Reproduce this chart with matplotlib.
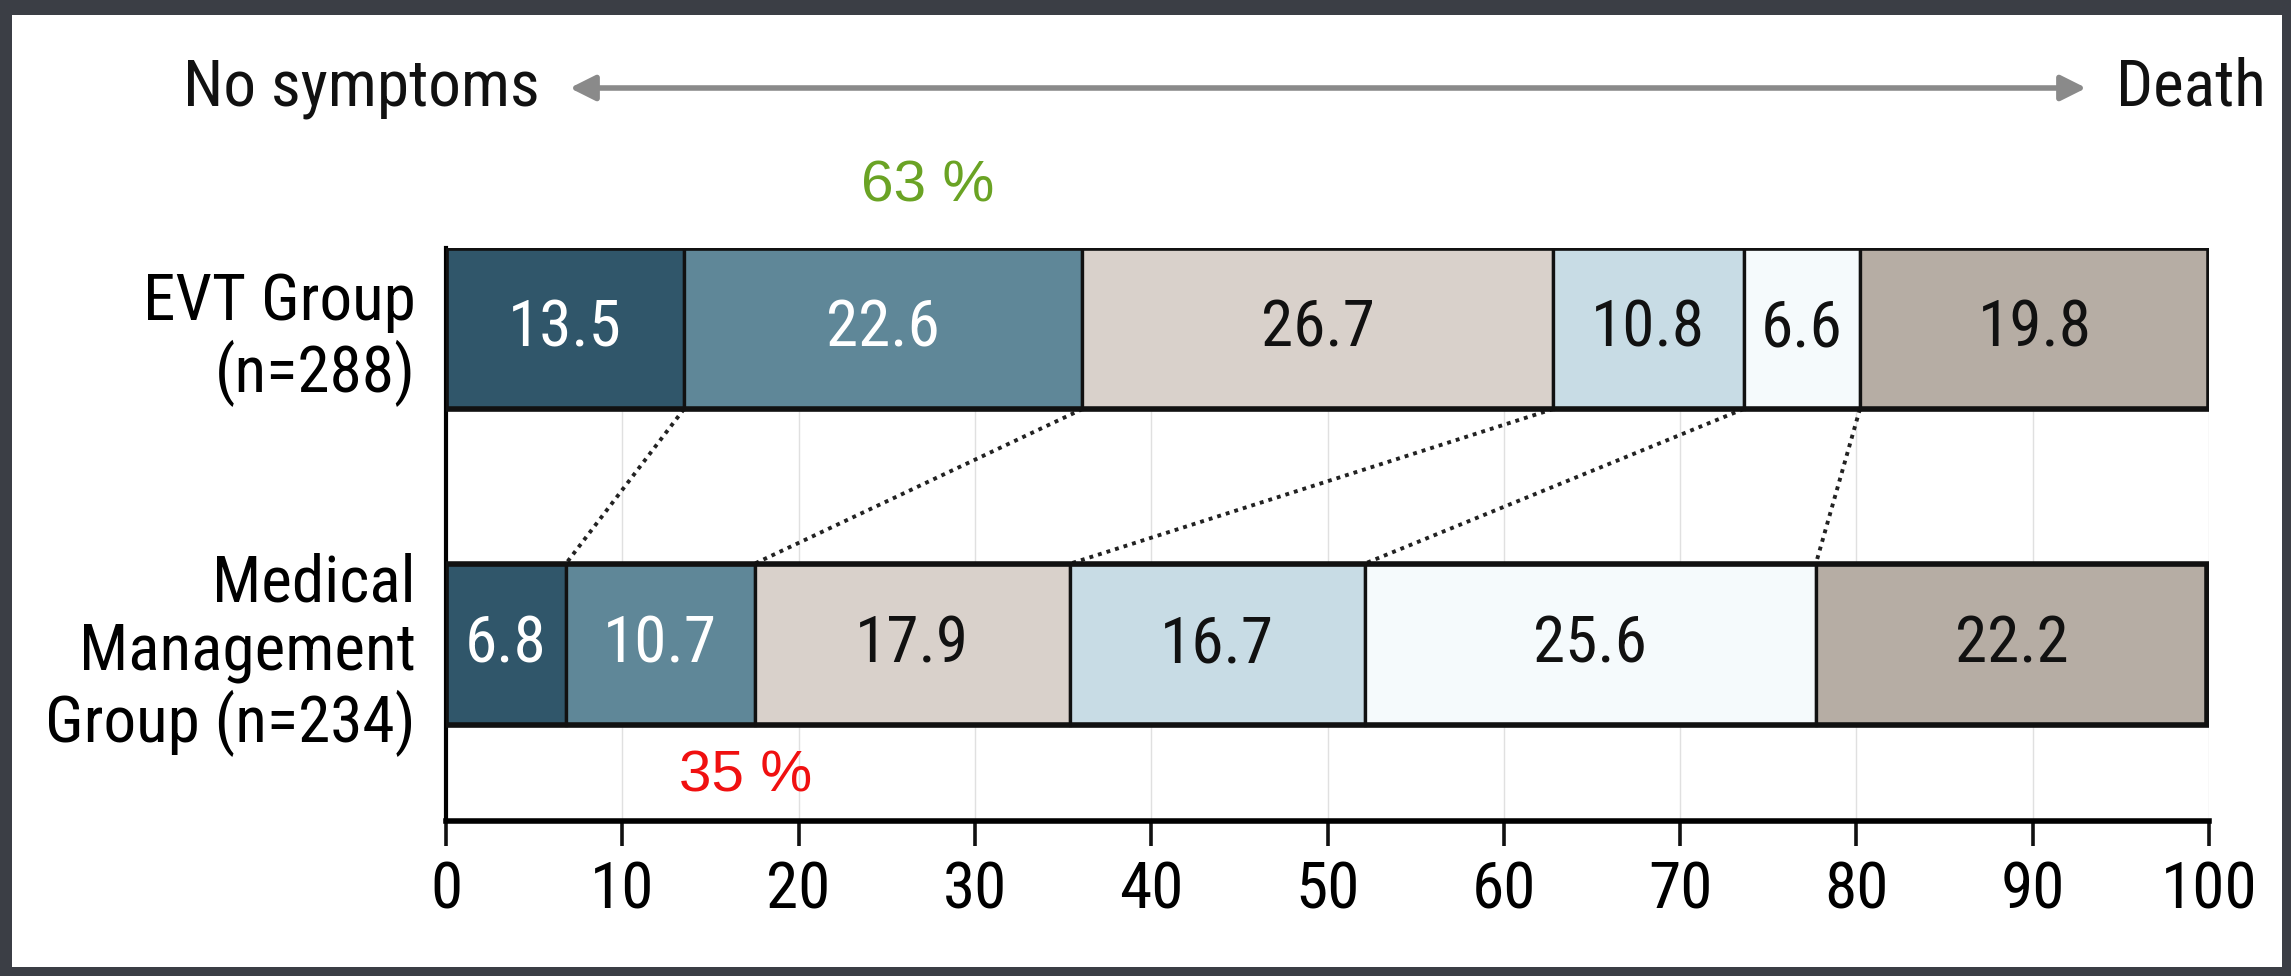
import matplotlib
matplotlib.use("Agg")
import matplotlib.pyplot as plt
from matplotlib.patches import Rectangle, FancyArrowPatch
from matplotlib import font_manager as fm
import matplotlib.transforms as mtransforms

# Outcome distribution (percent of patients) from best to worst outcome
groups = ["EVT Group\n(n=288)", "Medical\nManagement\nGroup (n=234)"]
evt_values = [13.5, 22.6, 26.7, 10.8, 6.6, 19.8]
medical_values = [6.8, 10.7, 17.9, 16.7, 25.6, 22.2]
x_ticks = [0, 10, 20, 30, 40, 50, 60, 70, 80, 90, 100]

seg_colors = ["#30566a", "#5f8798", "#d9d1cb", "#c8dce5", "#f5fafc", "#b6ada4"]
text_colors = ["white", "white", "#111111", "#111111", "#111111", "#111111"]


def condensed_font_path():
    """Return a regular-weight condensed sans font file, if one is installed."""
    narrow = ("condensed", "semi-condensed", "extra-condensed", "ultra-condensed")
    found = []
    for f in fm.fontManager.ttflist:
        if f.style != "normal":
            continue
        w = f.weight if isinstance(f.weight, int) else 400
        if w not in (400, 500):
            continue
        if f.stretch in narrow or "Narrow" in f.name or "Condensed" in f.name:
            found.append(f)
    order = ["Liberation Sans Narrow", "Roboto Condensed", "Noto Sans",
             "Open Sans", "DejaVu Sans", "Lato", "Inter", "Roboto"]

    def rank(f):
        for i, n in enumerate(order):
            if f.name.startswith(n):
                return (i, f.name)
        return (len(order), f.name)

    found.sort(key=rank)
    return found[0].fname if found else None


cond_path = condensed_font_path()


def cfont(size):
    if cond_path:
        return fm.FontProperties(fname=cond_path, size=size)
    return fm.FontProperties(family="DejaVu Sans", size=size * 0.8)


PLAIN = ["Liberation Sans", "DejaVu Sans"]
FS = 47

fig = plt.figure(figsize=(22.91, 9.76), dpi=100)
fig.patch.set_facecolor("#3b3e45")
fig.patches.append(Rectangle((12 / 2291, 9 / 976), (2282 - 12) / 2291, (961 - 9) / 976,
                             transform=fig.transFigure, facecolor="white",
                             edgecolor="none", zorder=-5))

ax = fig.add_axes([446 / 2291, 1 - 821 / 976, (2209 - 446) / 2291, (821 - 248) / 976])
ax.set_facecolor("none")

y_pos = [1.0, 0.0]
bar_h = 0.51
rows = [evt_values, medical_values]

# vertical gridlines
for t in x_ticks[1:]:
    ax.axvline(t, color="#e0e0e0", lw=1.0, zorder=0)

for y, vals in zip(y_pos, rows):
    left = 0.0
    for i, v in enumerate(vals):
        ax.barh(y, v, left=left, height=bar_h, color=seg_colors[i],
                edgecolor="#111111", linewidth=2.4, zorder=2)
        ax.text(left + v / 2, y, f"{v:.1f}", ha="center", va="center",
                fontproperties=cfont(FS), color=text_colors[i], zorder=4)
        left += v
    ax.add_patch(Rectangle((0, y - bar_h / 2), left, bar_h, fill=False,
                           edgecolor="#111111", linewidth=4.0, zorder=3))

# dotted connectors between matching category boundaries
evt_edges, med_edges = [], []
acc = 0.0
for v in evt_values[:-1]:
    acc += v
    evt_edges.append(acc)
acc = 0.0
for v in medical_values[:-1]:
    acc += v
    med_edges.append(acc)
for xe, xm in zip(evt_edges, med_edges):
    ax.plot([xe, xm], [1.0 - bar_h / 2, 0.0 + bar_h / 2], color="#222222",
            lw=2.8, ls=(0, (1.0, 1.3)), zorder=1)

ax.set_xlim(0, 100)
ax.set_ylim(-0.56, 1.255)
ax.set_xticks(x_ticks)
ax.set_xticklabels([str(t) for t in x_ticks], fontproperties=cfont(FS))
ax.set_yticks(y_pos)
ax.set_yticklabels(groups, fontproperties=cfont(FS), linespacing=1.12)
ax.tick_params(axis="y", length=0, pad=22)
ax.tick_params(axis="x", length=18, width=2.6, color="#111111", pad=10)
for s in ["top", "right"]:
    ax.spines[s].set_visible(False)
ax.spines["bottom"].set_linewidth(4.0)
ax.spines["left"].set_linewidth(3.0)

# percentage of patients with good outcome (first three categories)
evt_good = round(sum(evt_values[:3]))
med_good = round(sum(medical_values[:3]))
trans = mtransforms.blended_transform_factory(ax.transData, fig.transFigure)
ax.text(27.3, 1 - 187 / 976, f"{evt_good} %", transform=trans, ha="center",
        va="center", fontsize=42, color="#6aa324", family=PLAIN, clip_on=False)
ax.text(17.0, 1 - 777 / 976, f"{med_good} %", transform=trans, ha="center",
        va="center", fontsize=42, color="#f01010", family=PLAIN, clip_on=False)

# severity scale arrow
arrow_y = 1 - 88 / 976
fig.patches.append(FancyArrowPatch((567 / 2291, arrow_y), (2089 / 2291, arrow_y),
                                   transform=fig.transFigure, arrowstyle="<|-|>",
                                   mutation_scale=38, color="#8a8a8a", lw=4))
fig.text(540 / 2291, arrow_y, "No symptoms", ha="right", va="center",
         fontproperties=cfont(FS), color="#111111")
fig.text(2116 / 2291, arrow_y, "Death", ha="left", va="center",
         fontproperties=cfont(FS), color="#111111")

fig.savefig("out.png", dpi=100, facecolor=fig.get_facecolor())
